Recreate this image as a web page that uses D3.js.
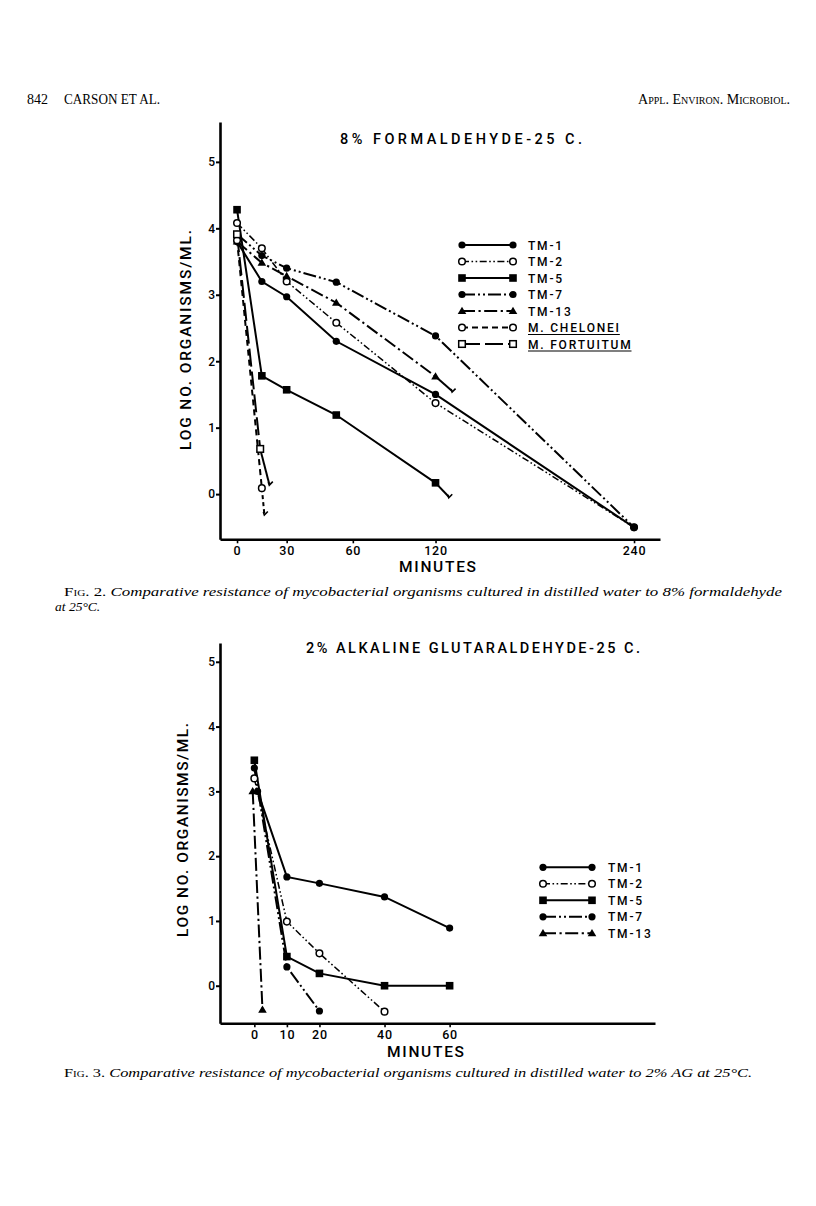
<!DOCTYPE html>
<html>
<head>
<meta charset="utf-8">
<script src="https://cdn.jsdelivr.net/npm/d3@7"></script>
<style>
  html, body { margin: 0; padding: 0; background: #fff; }
  svg { display: block; }
  .tick text { font-family: Roboto, "Liberation Sans", Arial, sans-serif; font-weight: 500; }
</style>
</head>
<body>
<svg id="page" width="816" height="1206"></svg>
<script>
// ---------------- DATA: Fig. 2 (8% formaldehyde, 25 C) ----------------
const fig2Names = ["TM-1", "TM-2", "TM-5", "TM-7", "TM-13", "M. CHELONEI", "M. FORTUITUM"];
const fig2_TM1  = [[0, 3.80], [15, 3.20], [30, 2.97], [60, 2.30], [120, 1.50], [240, -0.50]];
const fig2_TM2  = [[0, 4.08], [15, 3.70], [30, 3.20], [60, 2.58], [120, 1.37], [240, -0.50]];
const fig2_TM5  = [[0, 4.28], [15, 1.78], [30, 1.57], [60, 1.19], [120, 0.17]];
const fig2_TM7  = [[0, 3.91], [15, 3.59], [30, 3.40], [60, 3.19], [120, 2.38], [240, -0.50]];
const fig2_TM13 = [[0, 3.80], [15, 3.48], [30, 3.28], [60, 2.88], [120, 1.77]];
const fig2_Chel = [[0, 3.82], [15, 0.09]];
const fig2_Fort = [[0, 3.91], [14, 0.68]];
// trailing "below detection" segments
const fig2_TM5_tail  = [[120, 0.17], [128, -0.04]];
const fig2_TM13_tail = [[120, 1.77], [130, 1.55]];
const fig2_Chel_tail = [[15, 0.09], [16.5, -0.30]];
const fig2_Fort_tail = [[14, 0.68], [19.5, 0.15]];
const fig2YTicks = [0, 1, 2, 3, 4, 5];
const fig2XTickAt = [0, 30, 70, 120, 240];
const fig2XTickLabels = ["0", "30", "60", "120", "240"];

// ---------------- DATA: Fig. 3 (2% alkaline glutaraldehyde, 25 C) ----------------
const fig3Names = ["TM-1", "TM-2", "TM-5", "TM-7", "TM-13"];
const fig3_TM1  = [[1, 3.00], [10, 1.68], [20, 1.58], [40, 1.37], [60, 0.89]];
const fig3_TM2  = [[0, 3.20], [10, 0.99], [20, 0.50], [40, -0.40]];
const fig3_TM5  = [[0, 3.48], [10, 0.45], [20, 0.19], [40, 0.00], [60, 0.00]];
const fig3_TM7  = [[0, 3.36], [10, 0.29], [20, -0.39]];
const fig3_TM13 = [[-0.5, 3.00], [2.5, -0.37]];
const fig3YTicks = [0, 1, 2, 3, 4, 5];
const fig3XTickAt = [0, 10, 20, 40, 60];
const fig3XTickLabels = ["0", "10", "20", "40", "60"];

// ---------------- STYLES ----------------
const styles = {
  "TM-1":         { dash: null,                    marker: "dot",    width: 2.0 },
  "TM-2":         { dash: "7,2.5,1.6,2.5,1.6,2.5", marker: "ring",   width: 1.5 },
  "TM-5":         { dash: null,                    marker: "square", width: 2.0 },
  "TM-7":         { dash: "13,3,2,3,2,3",          marker: "dot",    width: 2.0 },
  "TM-13":        { dash: "13,3.5,2.2,3.5",        marker: "tri",    width: 2.0 },
  "M. CHELONEI":  { dash: "6,4",                   marker: "ring",   width: 2.0 },
  "M. FORTUITUM": { dash: "18,5",                  marker: "box",    width: 2.0 }
};

const svg = d3.select("#page");
const SANS = 'Roboto, "Liberation Sans", Arial, sans-serif';
const SERIF = '"Liberation Serif", "Times New Roman", serif';

function drawMarker(g, kind, cx, cy) {
  if (kind === "dot") {
    g.append("circle").attr("cx", cx).attr("cy", cy).attr("r", 3.6).attr("fill", "#000");
  } else if (kind === "ring") {
    g.append("circle").attr("cx", cx).attr("cy", cy).attr("r", 3.3)
      .attr("fill", "#fff").attr("stroke", "#000").attr("stroke-width", 1.5);
  } else if (kind === "square") {
    g.append("rect").attr("x", cx - 3.8).attr("y", cy - 3.8).attr("width", 7.6).attr("height", 7.6).attr("fill", "#000");
  } else if (kind === "box") {
    g.append("rect").attr("x", cx - 3.3).attr("y", cy - 3.3).attr("width", 6.6).attr("height", 6.6)
      .attr("fill", "#fff").attr("stroke", "#000").attr("stroke-width", 1.5);
  } else if (kind === "tri") {
    g.append("path").attr("d", `M${cx},${cy - 4.3}L${cx + 4.3},${cy + 3}L${cx - 4.3},${cy + 3}Z`).attr("fill", "#000");
  }
}

function drawPanel(cfg) {
  const g = svg.append("g");
  const x = d3.scaleLinear().domain(cfg.xDomain).range(cfg.xRange);
  const y = d3.scaleLinear().domain(cfg.yDomain).range(cfg.yRange);
  const line = d3.line().x(d => x(d[0])).y(d => y(d[1]));

  // axes
  const ya = g.append("g").attr("transform", `translate(${cfg.xRange[0]},0)`)
    .call(d3.axisLeft(y).tickValues(cfg.yTicks).tickFormat(d3.format("d"))
      .tickSize(4).tickSizeOuter(0).tickPadding(1));
  ya.select(".domain").attr("stroke-width", 2.6);
  ya.selectAll(".tick line").attr("stroke-width", 2);
  ya.selectAll(".tick text").attr("font-size", 12);

  const xa = g.append("g").attr("transform", `translate(0,${cfg.yRange[0]})`)
    .call(d3.axisBottom(x).tickValues(cfg.xTickAt).tickFormat((d, i) => cfg.xTickLabels[i])
      .tickSize(4).tickSizeOuter(0).tickPadding(3));
  xa.select(".domain").attr("stroke-width", 2.6);
  xa.selectAll(".tick line").attr("stroke-width", 1.6);
  xa.selectAll(".tick text").attr("font-size", 12.5).attr("letter-spacing", 0.8);

  // series lines
  cfg.series.forEach(s => {
    const st = styles[s.name];
    g.append("path").datum(s.data).attr("d", line)
      .attr("fill", "none").attr("stroke", "#000").attr("stroke-width", st.width)
      .attr("stroke-dasharray", st.dash);
    if (s.tail) {
      g.append("path").datum(s.tail).attr("d", line)
        .attr("fill", "none").attr("stroke", "#000").attr("stroke-width", st.width)
        .attr("stroke-dasharray", st.dash && st.dash.startsWith("6") ? "4,3" : null);
      const e = s.tail[s.tail.length - 1];
      const ex = x(e[0]), ey = y(e[1]);
      g.append("path").attr("d", `M${ex - 1},${ey - 2}L${ex},${ey + 1}L${ex + 3.5},${ey - 2.5}`)
        .attr("fill", "none").attr("stroke", "#000").attr("stroke-width", 1.6);
    }
  });
  // markers on top
  cfg.series.forEach(s => {
    const st = styles[s.name];
    s.data.forEach(d => drawMarker(g, st.marker, x(d[0]), y(d[1])));
  });

  // title
  g.append("text").attr("x", cfg.title.x).attr("y", cfg.title.y)
    .attr("font-family", SANS).attr("font-size", 14.5).attr("font-weight", 500)
    .attr("textLength", cfg.title.len).attr("lengthAdjust", "spacing")
    .text(cfg.title.text);

  // y label
  g.append("text").attr("transform", `translate(${cfg.ylab.x},${cfg.ylab.y}) rotate(-90)`)
    .attr("text-anchor", "middle").attr("font-family", SANS).attr("font-size", 15.5).attr("font-weight", 500)
    .attr("textLength", cfg.ylab.len).attr("lengthAdjust", "spacing")
    .text("LOG NO. ORGANISMS/ML.");

  // x label
  g.append("text").attr("x", cfg.xlab.x).attr("y", cfg.xlab.y)
    .attr("font-family", SANS).attr("font-size", 15.5).attr("font-weight", 500)
    .attr("textLength", 77).attr("lengthAdjust", "spacing")
    .text("MINUTES");

  // legend
  const L = cfg.legend;
  cfg.series.forEach((s, i) => {
    const st = styles[s.name];
    const ly = L.y0 + i * L.dy;
    g.append("line").attr("x1", L.x1).attr("x2", L.x2).attr("y1", ly).attr("y2", ly)
      .attr("stroke", "#000").attr("stroke-width", st.width).attr("stroke-dasharray", st.dash);
    drawMarker(g, st.marker, L.x1, ly);
    drawMarker(g, st.marker, L.x2, ly);
    const t = g.append("text").attr("x", L.tx).attr("y", ly + 4.5)
      .attr("font-family", SANS).attr("font-size", 12).attr("font-weight", 500)
      .attr("letter-spacing", 1.8).text(s.name);
    if (s.name.startsWith("M. ")) {
      const w = t.node().getComputedTextLength();
      g.append("line").attr("x1", L.tx).attr("x2", L.tx + w - 1).attr("y1", ly + 7).attr("y2", ly + 7)
        .attr("stroke", "#000").attr("stroke-width", 1.2);
    }
  });
}

// ---------------- Fig. 2 ----------------
drawPanel({
  xDomain: [-10.3, 255.7], xRange: [220, 660],
  yDomain: [-0.68, 5.6],   yRange: [539.3, 122],
  yTicks: fig2YTicks, xTickAt: fig2XTickAt, xTickLabels: fig2XTickLabels,
  series: [
    { name: fig2Names[0], data: fig2_TM1 },
    { name: fig2Names[1], data: fig2_TM2 },
    { name: fig2Names[2], data: fig2_TM5, tail: fig2_TM5_tail },
    { name: fig2Names[3], data: fig2_TM7 },
    { name: fig2Names[4], data: fig2_TM13, tail: fig2_TM13_tail },
    { name: fig2Names[5], data: fig2_Chel, tail: fig2_Chel_tail },
    { name: fig2Names[6], data: fig2_Fort, tail: fig2_Fort_tail }
  ],
  title: { text: "8% FORMALDEHYDE-25 C.", x: 340, y: 144, len: 242 },
  ylab: { x: 191, y: 340, len: 220 },
  xlab: { x: 399, y: 572 },
  legend: { x1: 462, x2: 513, tx: 528, y0: 245, dy: 16.5 }
});

// ---------------- Fig. 3 ----------------
drawPanel({
  xDomain: [-10.55, 123.1], xRange: [220, 655],
  yDomain: [-0.58, 5.29],   yRange: [1023.3, 643],
  yTicks: fig3YTicks, xTickAt: fig3XTickAt, xTickLabels: fig3XTickLabels,
  series: [
    { name: fig3Names[0], data: fig3_TM1 },
    { name: fig3Names[1], data: fig3_TM2 },
    { name: fig3Names[2], data: fig3_TM5 },
    { name: fig3Names[3], data: fig3_TM7 },
    { name: fig3Names[4], data: fig3_TM13 }
  ],
  title: { text: "2% ALKALINE GLUTARALDEHYDE-25 C.", x: 306, y: 653, len: 334 },
  ylab: { x: 188, y: 830, len: 214 },
  xlab: { x: 387, y: 1057 },
  legend: { x1: 543, x2: 592, tx: 608, y0: 867.3, dy: 16.5 }
});

// ---------------- Page header ----------------
svg.append("text").attr("x", 27).attr("y", 104).attr("font-family", SERIF).attr("font-size", 14).text("842");
svg.append("text").attr("x", 64).attr("y", 104).attr("font-family", SERIF).attr("font-size", 14)
  .attr("textLength", 96).attr("lengthAdjust", "spacingAndGlyphs").text("CARSON ET AL.");
svg.append("text").attr("x", 790).attr("y", 104).attr("text-anchor", "end").attr("font-family", SERIF)
  .attr("font-size", 14).style("font-variant", "small-caps").text("Appl. Environ. Microbiol.");

// ---------------- Captions ----------------
function caption(xp, yp, num, rest, len) {
  const t = svg.append("text").attr("x", xp).attr("y", yp).attr("font-family", SERIF).attr("font-size", 13.5);
  if (len) t.attr("textLength", len).attr("lengthAdjust", "spacingAndGlyphs");
  t.append("tspan").style("font-variant", "small-caps").text("Fig.");
  t.append("tspan").text(` ${num}. `);
  t.append("tspan").attr("font-style", "italic").text(rest);
}
caption(64, 596, 2, "Comparative resistance of mycobacterial organisms cultured in distilled water to 8% formaldehyde", 718);
svg.append("text").attr("x", 55).attr("y", 611).attr("font-family", SERIF).attr("font-size", 13.5)
  .attr("font-style", "italic").text("at 25°C.");
caption(64, 1077, 3, "Comparative resistance of mycobacterial organisms cultured in distilled water to 2% AG at 25°C.", 688);
</script>
</body>
</html>
